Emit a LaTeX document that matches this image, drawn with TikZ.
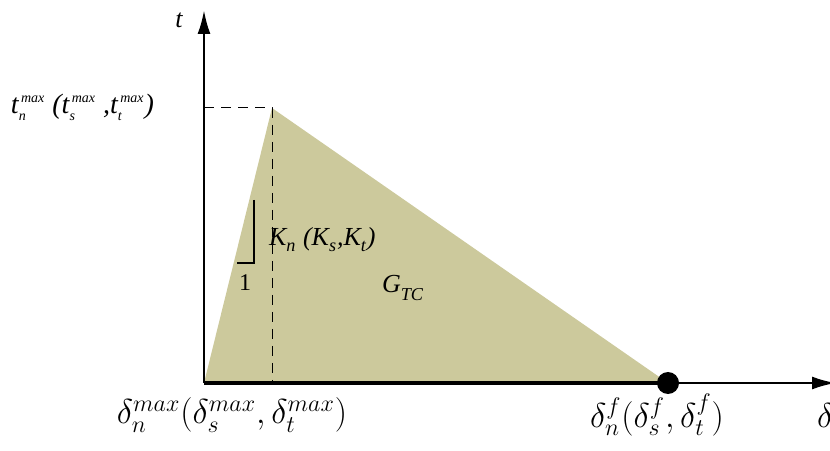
\documentclass[tikz,border=0pt]{standalone}
\usepackage{amsmath}
\usepackage{fontspec}
\setmainfont{Liberation Serif}
\usetikzlibrary{arrows.meta}
\definecolor{gtcfill}{RGB}{204,201,156}
\newcommand{\tsub}[3]{#1$_{\text{#2}}^{\text{#3}}$}
\newcommand{\tsmall}[3]{#1$_{\scriptscriptstyle\text{#2}}^{\scriptscriptstyle\text{#3}}$}

\begin{document}
\begin{tikzpicture}[x=0.5pt,y=0.5pt,>={Latex[length=12pt,width=6.5pt]},
  axis/.style={line width=1.3pt,->},
  guide/.style={dash pattern=on 5pt off 3.5pt,line width=0.5pt},
  tlab/.style={font=\fontsize{13}{15}\selectfont\itshape},
  dlab/.style={font=\fontsize{17}{20}\selectfont}]
  \useasboundingbox (0,0) rectangle (830,450);
  % Key points of the traction--separation law
  \coordinate (O) at (204,67);
  \coordinate (P) at (272,342);
  \coordinate (F) at (668,67);
  \coordinate (Pt) at (204,342);
  \coordinate (Pd) at (272,67);
  % Fracture energy area
  \fill[gtcfill] (O) -- (P) -- (F) -- cycle;
  % Axes
  \draw[axis] (O) -- (204,440) coordinate (tEnd);
  \draw[axis] (O) -- (836,67) coordinate (dEnd);
  \draw[line width=1.6pt] (O) -- (F);
  % Peak guides
  \draw[guide] (Pt) -- (P) -- (Pd);
  % Slope triangle
  \coordinate (s1) at (254,250);
  \coordinate (s2) at (254,187);
  \coordinate (s3) at (237,187);
  \draw[line width=0.6pt] (s1) -- (s2) -- (s3);
  \node (one) at (245,167) {\fontsize{12}{14}\selectfont 1};
  % Failure point
  \fill (F) circle (11);
  % Labels
  \node[tlab] (t) at (179,430) {t};
  \node[tlab,anchor=east,font=\fontsize{14}{16}\selectfont\itshape] (tmax) at (161,343)
    {\tsmall{t}{n}{\,max} (\tsmall{t}{s}{\,max} ,\tsmall{t}{t}{\,max})};
  \node[tlab,anchor=west] (K) at (262,210)
    {\tsub{K}{n}{} (\tsub{K}{s}{},\tsub{K}{t}{})};
  \node[tlab,anchor=west] (G) at (375,162) {\tsub{G}{TC}{}};
  \node[dlab] (dmax) at (232,35)
    {$\delta_n^{max}(\delta_s^{max},\delta_t^{max})$};
  \node[dlab] (df) at (657,35) {$\delta_n^f(\delta_s^f,\delta_t^f)$};
  \node[dlab,anchor=west] (d) at (810,35) {$\delta$};
\end{tikzpicture}
\end{document}
